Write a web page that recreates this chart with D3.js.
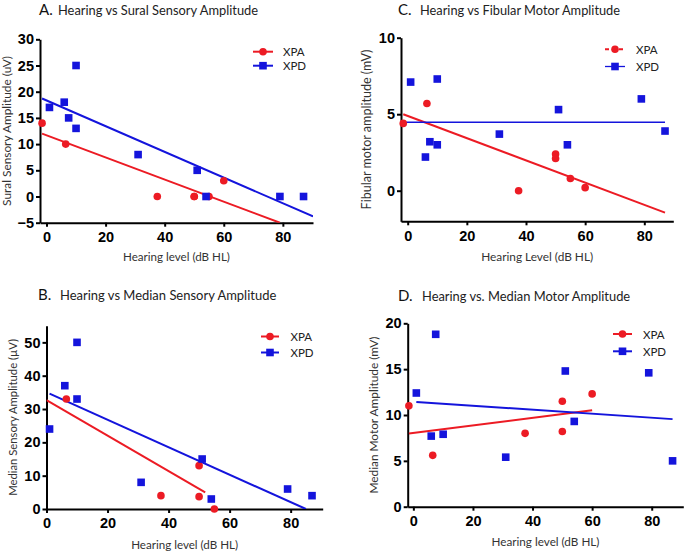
<!DOCTYPE html>
<html>
<head>
<meta charset="utf-8">
<script src="https://cdn.jsdelivr.net/npm/d3@7"></script>
<style>
  html, body { margin: 0; padding: 0; background: #fff; }
  svg { display: block; }
</style>
</head>
<body>
<svg id="chart" width="685" height="551"></svg>
<script>
// ---------------- DATA ----------------
const seriesNames = ["XPA", "XPD"];
const xTicks = [0, 20, 40, 60, 80];

// A. Sural sensory amplitude
const suralHearingXPA = [-1.5, 6.5, 37.5, 50, 50, 55, 60];
const suralXPA = [14, 10, 0, 0, 0, 0, 3];
const suralHearingXPD = [1, 6, 7.5, 10, 10, 31, 51, 54, 79, 87];
const suralXPD = [17, 18, 15, 25, 13, 8, 5, 0, 0, 0];
const suralFitXPA = [[-1.5, 12.0], [79, -5]];
const suralFitXPD = [[-1.5, 18.7], [90.2, -3.8]];
const suralYTicks = [-5, 0, 5, 10, 15, 20, 25, 30];

// B. Median sensory amplitude
const medSensHearingXPA = [6.5, 37.5, 50, 50, 55];
const medSensXPA = [33, 4, 13, 3.7, 0];
const medSensHearingXPD = [1, 6, 10, 10, 31, 51, 54, 79, 87];
const medSensXPD = [24, 37, 50, 33, 8, 15, 3, 6, 4];
const medSensFitXPA = [[0, 32.7], [52, 5.0]];
const medSensFitXPD = [[1, 34.6], [85, 0]];
const medSensYTicks = [0, 10, 20, 30, 40, 50];

// C. Fibular motor amplitude
const fibHearingXPA = [-1.5, 6.5, 37.5, 50, 50, 55, 60];
const fibXPA = [4.4, 5.7, 0, 2.4, 2.1, 0.8, 0.2];
const fibHearingXPD = [1, 6, 7.5, 10, 10, 31, 51, 54, 79, 87];
const fibXPD = [7.1, 2.2, 3.2, 7.3, 3.0, 3.7, 5.3, 3.0, 6.0, 3.9];
const fibFitXPA = [[-1.5, 5.0], [87, -1.43]];
const fibFitXPD = [[-1.5, 4.47], [87, 4.47]];
const fibYTicks = [0, 5, 10];

// D. Median motor amplitude
const medMotHearingXPA = [-1.5, 6.5, 37.5, 50, 50, 60];
const medMotXPA = [11, 5.6, 8.0, 11.5, 8.2, 12.3];
const medMotHearingXPD = [1, 6, 7.5, 10, 31, 51, 54, 79, 87];
const medMotXPD = [12.4, 7.7, 18.8, 7.9, 5.4, 14.8, 9.3, 14.6, 5.0];
const medMotFitXPA = [[-1.5, 7.98], [60, 10.52]];
const medMotFitXPD = [[1, 11.42], [87, 9.55]];
const medMotYTicks = [0, 5, 10, 15, 20];

// ---------------- STYLE / LAYOUT ----------------
const colors = { XPA: "#ec1b24", XPD: "#1414dc" };
const textFont = "Lato, 'Open Sans', sans-serif";
const tickFont = "'Liberation Sans', Arial, sans-serif";

const panels = [
  {
    letter: "A.", title: "Hearing vs Sural Sensory Amplitude",
    letterX: 39, titleX: 58, titleY: 15, titleW: 200,
    xDomain: [-2.2, 90.2], xRange: [40, 313],
    yDomain: [-5, 30], yRange: [222.7, 39.3],
    yTicks: suralYTicks,
    yLabel: "Sural Sensory Amplitude (uV)", yLabelX: 6, yLabelW: 150,
    xLabel: "Hearing level (dB HL)", xLabelY: 261, xLabelW: 107,
    pts: { XPA: [suralHearingXPA, suralXPA], XPD: [suralHearingXPD, suralXPD] },
    fits: { XPA: suralFitXPA, XPD: suralFitXPD },
    legend: { x1: 253, x2: 273, tx: 283, y: [51.7, 65.7], dashXPA: false, thinXPD: false }
  },
  {
    letter: "B.", title: "Hearing vs Median Sensory Amplitude",
    letterX: 38, titleX: 60, titleY: 300, titleW: 216,
    xDomain: [0, 90.5], xRange: [46.5, 322.7],
    yDomain: [0, 55], yRange: [509, 325.7],
    yTicks: medSensYTicks,
    yLabel: "Median Sensory Amplitude (\u00B5V)", yLabelX: 12, yLabelW: 157,
    xLabel: "Hearing level (dB HL)", xLabelY: 549, xLabelW: 107,
    pts: { XPA: [medSensHearingXPA, medSensXPA], XPD: [medSensHearingXPD, medSensXPD] },
    fits: { XPA: medSensFitXPA, XPD: medSensFitXPD },
    legend: { x1: 261, x2: 279, tx: 290.5, y: [336.5, 352.5], dashXPA: false, thinXPD: false }
  },
  {
    letter: "C.", title: "Hearing vs Fibular Motor Amplitude",
    letterX: 398, titleX: 420, titleY: 15, titleW: 200,
    xDomain: [-2.26, 89.8], xRange: [401, 673.3],
    yDomain: [-2, 10], yRange: [221.3, 37.7],
    yTicks: fibYTicks,
    yLabel: "Fibular motor amplitude (mV)", yLabelX: 366, yLabelW: 160,
    xLabel: "Hearing Level (dB HL)", xLabelY: 261, xLabelW: 112,
    pts: { XPA: [fibHearingXPA, fibXPA], XPD: [fibHearingXPD, fibXPD] },
    fits: { XPA: fibFitXPA, XPD: fibFitXPD },
    legend: { x1: 605, x2: 625, tx: 636, y: [49.3, 66.5], dashXPA: true, thinXPD: true }
  },
  {
    letter: "D.", title: "Hearing vs. Median Motor Amplitude",
    letterX: 398, titleX: 422, titleY: 300.5, titleW: 208,
    xDomain: [-1.9, 90.6], xRange: [407.7, 683.3],
    yDomain: [0, 20], yRange: [506.7, 323.3],
    yTicks: medMotYTicks,
    yLabel: "Median Motor Amplitude (mV)", yLabelX: 373, yLabelW: 157,
    xLabel: "Hearing level (dB HL)", xLabelY: 545.5, xLabelW: 108,
    pts: { XPA: [medMotHearingXPA, medMotXPA], XPD: [medMotHearingXPD, medMotXPD] },
    fits: { XPA: medMotFitXPA, XPD: medMotFitXPD },
    legend: { x1: 613, x2: 632, tx: 643, y: [334, 351.3], dashXPA: false, thinXPD: false }
  }
];

const svg = d3.select("#chart");

// scale a text's font size so its rendered width matches the reference width
function fitWidth(sel, base, target) {
  sel.attr("font-size", base);
  const w = sel.node().getComputedTextLength();
  if (w > 0) {
    let s = base * target / w;
    s = Math.max(base * 0.85, Math.min(base * 1.2, s));
    sel.attr("font-size", s.toFixed(2));
  }
}

function drawMarker(g, name, cx, cy) {
  if (name === "XPA") {
    g.append("circle").attr("cx", cx).attr("cy", cy).attr("r", 3.8)
      .attr("fill", colors.XPA);
  } else {
    const s = 7.6;
    g.append("rect").attr("x", cx - s / 2).attr("y", cy - s / 2)
      .attr("width", s).attr("height", s).attr("fill", colors.XPD);
  }
}

panels.forEach((p, i) => {
  const g = svg.append("g");
  const x = d3.scaleLinear().domain(p.xDomain).range(p.xRange);
  const y = d3.scaleLinear().domain(p.yDomain).range(p.yRange);

  // title
  g.append("text").attr("x", p.letterX).attr("y", p.titleY)
    .attr("font-family", textFont).attr("font-size", 15).attr("fill", "#111")
    .text(p.letter);
  const t = g.append("text").attr("x", p.titleX).attr("y", p.titleY)
    .attr("font-family", textFont).attr("fill", "#222")
    .text(p.title);
  fitWidth(t, 11.7, p.titleW);

  // clip
  const clipId = "clip" + i;
  g.append("clipPath").attr("id", clipId).append("rect")
    .attr("x", p.xRange[0]).attr("y", p.yRange[1])
    .attr("width", p.xRange[1] - p.xRange[0])
    .attr("height", p.yRange[0] - p.yRange[1]);

  // axes
  const xAxis = d3.axisBottom(x).tickValues(xTicks).tickSize(4).tickSizeOuter(0).tickPadding(3);
  const yAxis = d3.axisLeft(y).tickValues(p.yTicks).tickSize(4).tickSizeOuter(0).tickPadding(2);

  const gx = g.append("g").attr("transform", `translate(0,${p.yRange[0]})`).call(xAxis);
  const gy = g.append("g").attr("transform", `translate(${p.xRange[0]},0)`).call(yAxis);
  [gx, gy].forEach(a => {
    a.select(".domain").attr("stroke", "#000").attr("stroke-width", 2);
    a.selectAll(".tick line").attr("stroke", "#000").attr("stroke-width", 2);
    a.selectAll(".tick text").attr("font-family", tickFont).attr("font-weight", "bold")
      .attr("font-size", 14.5).attr("fill", "#000");
  });
  gx.selectAll(".tick text").attr("dy", "0.85em");

  // axis labels
  const yl = g.append("text")
    .attr("transform", `translate(${p.yLabelX},${(p.yRange[0] + p.yRange[1]) / 2}) rotate(-90)`)
    .attr("text-anchor", "middle").attr("dominant-baseline", "central")
    .attr("font-family", textFont).attr("fill", "#333")
    .text(p.yLabel);
  fitWidth(yl, 11, p.yLabelW);
  const xl = g.append("text")
    .attr("x", (p.xRange[0] + p.xRange[1]) / 2).attr("y", p.xLabelY)
    .attr("text-anchor", "middle")
    .attr("font-family", textFont).attr("fill", "#333")
    .text(p.xLabel);
  fitWidth(xl, 11.3, p.xLabelW);

  // fit lines
  const plot = g.append("g").attr("clip-path", `url(#${clipId})`);
  const line = d3.line().x(d => x(d[0])).y(d => y(d[1]));
  seriesNames.forEach(name => {
    plot.append("path").datum(p.fits[name]).attr("d", line)
      .attr("fill", "none").attr("stroke", colors[name])
      .attr("stroke-width", (name === "XPD" && p.legend.thinXPD) ? 1.5 : 2);
  });

  // points
  seriesNames.forEach(name => {
    const [xs, ys] = p.pts[name];
    xs.forEach((xv, j) => drawMarker(g, name, x(xv), y(ys[j])));
  });

  // legend
  const L = p.legend;
  seriesNames.forEach((name, k) => {
    const ly = L.y[k];
    const ln = g.append("line").attr("x1", L.x1).attr("x2", L.x2)
      .attr("y1", ly).attr("y2", ly).attr("stroke", colors[name])
      .attr("stroke-width", (name === "XPD" && L.thinXPD) ? 1.3 : 2);
    if (name === "XPA" && L.dashXPA) ln.attr("stroke-dasharray", "4,3");
    drawMarker(g, name, (L.x1 + L.x2) / 2, ly);
    g.append("text").attr("x", L.tx).attr("y", ly).attr("dominant-baseline", "central")
      .attr("font-family", textFont).attr("font-size", 11.5).attr("fill", "#222")
      .text(name);
  });
});
</script>
</body>
</html>
